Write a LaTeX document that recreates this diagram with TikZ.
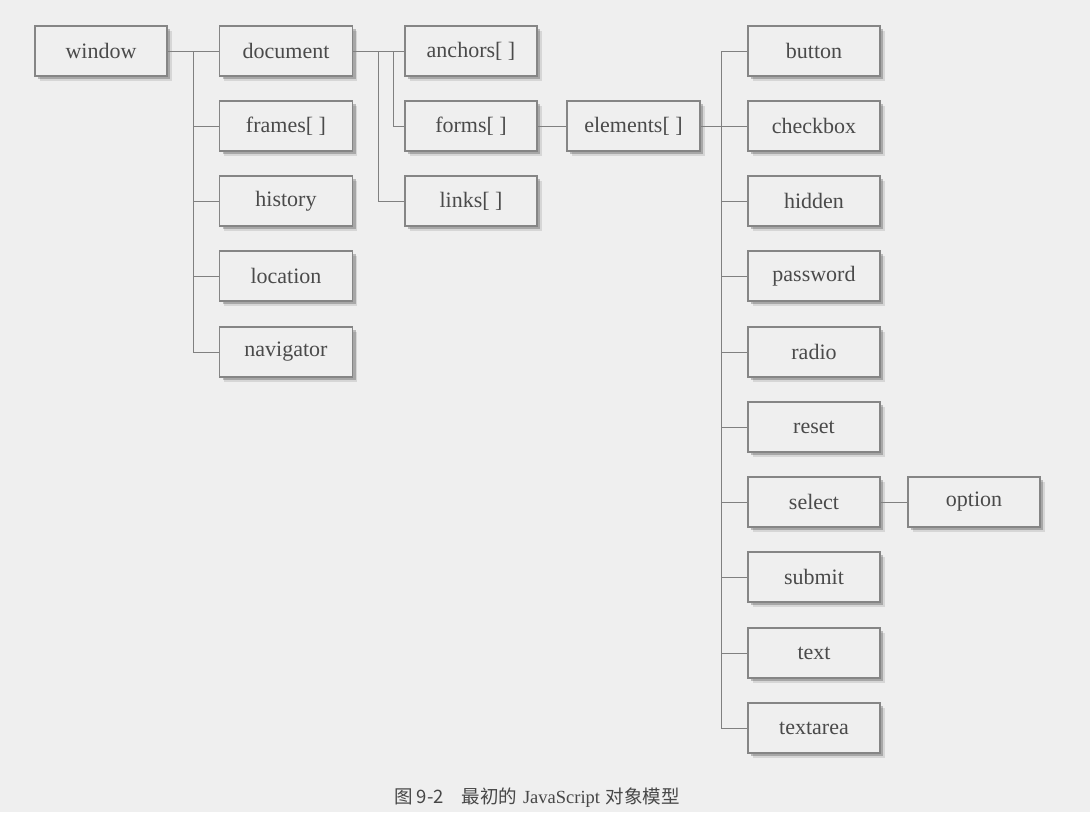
\documentclass[tikz,border=0pt]{standalone}
\usepackage{fontspec}
\newfontfamily\cjk{Noto Sans CJK SC}
\newfontfamily\capserif{Liberation Serif}
\newfontfamily\boxfont{Liberation Serif}
\usetikzlibrary{shadows}
\definecolor{bg}{HTML}{EFEFEF}
\definecolor{boxline}{HTML}{858585}
\definecolor{conn}{HTML}{808080}
\definecolor{txt}{HTML}{4A4A4A}
\tikzset{
  objbox/.style={draw=boxline, line width=1.1pt, fill=bg, minimum width=133pt, minimum height=50pt,
    inner sep=0pt, text=txt, font=\boxfont\fontsize{22}{26}\selectfont,
    drop shadow={shadow xshift=4.5pt, shadow yshift=-4.5pt, opacity=0.10, fill=black},
    drop shadow={shadow xshift=3pt, shadow yshift=-3pt, opacity=0.22, fill=black}},
  link/.style={draw=conn, line width=1pt}
}
\begin{document}
\begin{tikzpicture}[x=1pt,y=-1pt]
\fill[bg] (0,0) rectangle (1090,812);
\useasboundingbox (0,0) rectangle (1090,812);
% column 1
\node[objbox, minimum width=132pt] (window) at (101,51) {window};
% column 2
\node[objbox] (document) at (286,51) {document};
\node[objbox] (frames) at (286,126) {frames[ ]};
\node[objbox] (history) at (286,201) {history};
\node[objbox] (location) at (286,276) {location};
\node[objbox] (navigator) at (286,352) {navigator};
% column 3
\node[objbox, minimum width=132pt] (anchors) at (471,51) {anchors[ ]};
\node[objbox, minimum width=132pt] (forms) at (471,126) {forms[ ]};
\node[objbox, minimum width=132pt] (links) at (471,201) {links[ ]};
% column 4
\node[objbox] (elements) at (633.5,126) {elements[ ]};
% column 5
\node[objbox, minimum width=132pt] (button) at (814,51) {button};
\node[objbox, minimum width=132pt] (checkbox) at (814,126) {checkbox};
\node[objbox, minimum width=132pt] (hidden) at (814,201) {hidden};
\node[objbox, minimum width=132pt] (password) at (814,276) {password};
\node[objbox, minimum width=132pt] (radio) at (814,352) {radio};
\node[objbox, minimum width=132pt] (reset) at (814,427) {reset};
\node[objbox, minimum width=132pt] (select) at (814,502) {select};
\node[objbox, minimum width=132pt] (submit) at (814,577) {submit};
\node[objbox, minimum width=132pt] (text) at (814,653) {text};
\node[objbox, minimum width=132pt] (textarea) at (814,728) {textarea};
% column 6
\node[objbox, minimum width=132pt] (option) at (974,502) {option};
% bus coordinates
\coordinate (wb) at (193,51);
\coordinate (db1) at (378,51);
\coordinate (db2) at (393,51);
\coordinate (eb) at (721,126);
% connectors: window
\draw[link] (window.east) -- (document.west);
\draw[link] (wb) |- (navigator.west);
\draw[link] (wb) |- (frames.west);
\draw[link] (wb) |- (history.west);
\draw[link] (wb) |- (location.west);
% connectors: document
\draw[link] (document.east) -- (anchors.west);
\draw[link] (db1) |- (links.west);
\draw[link] (db2) |- (forms.west);
% forms -> elements
\draw[link] (forms.east) -- (elements.west);
% elements bus
\draw[link] (elements.east) -- (eb);
\draw[link] (eb |- button.west) |- (textarea.west);
\draw[link] (eb |- button.west) -- (button.west);
\draw[link] (eb) -- (checkbox.west);
\foreach \n in {hidden,password,radio,reset,select,submit,text}
  \draw[link] (eb |- \n.west) -- (\n.west);
% select -> option
\draw[link] (select.east) -- (option.west);
% caption
\node[text=black!72, font=\fontsize{18.5}{21}\selectfont, anchor=center] (caption) at (537,798)
  {{\cjk 图 9-2}\hspace{18pt}{\cjk 最初的} {\capserif JavaScript} {\cjk 对象模型}};
\end{tikzpicture}
\end{document}
